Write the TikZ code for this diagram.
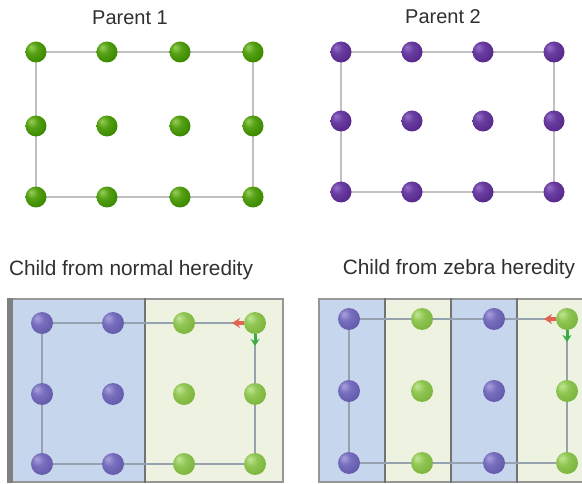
\documentclass[tikz,border=0pt]{standalone}
\usepackage{fontspec}
\setmainfont{Liberation Sans}
\usetikzlibrary{arrows.meta}

% layers: paper and column fills below, lattice wires above them, atoms on top
\pgfdeclarelayer{boxes}
\pgfdeclarelayer{wires}
\pgfsetlayers{boxes,wires,main}

% soft sphere shadings, one per atom colour
\pgfdeclareradialshading{pgreen}{\pgfpoint{-12bp}{12bp}}{%
  color(0bp)=(rgb,255:red,150;green,205;blue,90);
  color(14bp)=(rgb,255:red,85;green,160;blue,20);
  color(30bp)=(rgb,255:red,60;green,138;blue,0);
  color(44bp)=(rgb,255:red,42;green,100;blue,0);
  color(60bp)=(rgb,255:red,30;green,70;blue,0)}
\pgfdeclareradialshading{ppurple}{\pgfpoint{-12bp}{12bp}}{%
  color(0bp)=(rgb,255:red,150;green,110;blue,200);
  color(14bp)=(rgb,255:red,105;green,60;blue,160);
  color(30bp)=(rgb,255:red,88;green,42;blue,142);
  color(44bp)=(rgb,255:red,62;green,26;blue,105);
  color(60bp)=(rgb,255:red,45;green,18;blue,80)}
\pgfdeclareradialshading{cpurple}{\pgfpoint{-12bp}{12bp}}{%
  color(0bp)=(rgb,255:red,170;green,162;blue,220);
  color(14bp)=(rgb,255:red,120;green,110;blue,190);
  color(30bp)=(rgb,255:red,102;green,92;blue,172);
  color(44bp)=(rgb,255:red,78;green,68;blue,145);
  color(60bp)=(rgb,255:red,60;green,52;blue,120)}
\pgfdeclareradialshading{cgreen}{\pgfpoint{-12bp}{12bp}}{%
  color(0bp)=(rgb,255:red,195;green,230;blue,150);
  color(14bp)=(rgb,255:red,145;green,198;blue,85);
  color(30bp)=(rgb,255:red,125;green,182;blue,62);
  color(44bp)=(rgb,255:red,98;green,150;blue,45);
  color(60bp)=(rgb,255:red,75;green,120;blue,35)}

\definecolor{txt}{RGB}{48,48,48}
\definecolor{blueband}{RGB}{198,214,236}
\definecolor{greenband}{RGB}{237,243,224}
\definecolor{frame}{RGB}{150,150,150}
\definecolor{darkframe}{RGB}{115,115,115}
\definecolor{pwire}{RGB}{192,192,192}
\definecolor{cwire}{RGB}{150,162,175}
\definecolor{axisred}{RGB}{225,100,80}
\definecolor{axisgreen}{RGB}{60,170,70}

\tikzset{
  atom/.style={circle, inner sep=0pt, minimum size=21pt, draw=none},
  p1atom/.style={atom, shading=pgreen},
  p2atom/.style={atom, shading=ppurple},
  cbatom/.style={atom, minimum size=22pt, shading=cpurple},
  cgatom/.style={atom, minimum size=22pt, shading=cgreen},
  title/.style={text=txt, font=\fontsize{20}{24}\selectfont, inner sep=0pt},
  ctitle/.style={text=txt, font=\fontsize{20.8}{24}\selectfont, inner sep=0pt},
  pwires/.style={draw=pwire, line width=1.4pt},
  cwires/.style={draw=cwire, line width=1.1pt},
  bluecol/.style={fill=blueband, draw=frame, line width=2.5pt},
  greencol/.style={fill=greenband, draw=frame, line width=2.5pt},
  xaxis/.style={draw=axisred, line width=3.5pt, -{Stealth[length=8pt,width=10pt]}},
  yaxis/.style={draw=axisgreen, line width=3pt, -{Stealth[length=7pt,width=9pt]}},
}

\begin{document}
\begin{tikzpicture}[x=1pt,y=-1pt]
\useasboundingbox (0,0) rectangle (582,484);
\begin{pgfonlayer}{boxes}
  \fill[white] (0,0) rectangle (582,484);
\end{pgfonlayer}

% ---------- titles ----------
\node[title] (t1) at (130,18) {Parent 1};
\node[title] (t2) at (443,17) {Parent 2};
\node[ctitle] (t3) at (131,270) {Child from normal heredity};
\node[ctitle] (t4) at (459,269) {Child from zebra heredity};

% ---------- parent 1 ----------
\foreach \x [count=\i] in {36,107,180,253}
  \foreach \y [count=\j] in {52,126,197}
    \node[p1atom] (a\i\j) at (\x,\y) {};
\begin{pgfonlayer}{wires}
  \draw[pwires] (a11.center) -- (a41.center) -- (a43.center) -- (a13.center) -- cycle;
\end{pgfonlayer}

% ---------- parent 2 ----------
\foreach \x [count=\i] in {341,412,483,554}
  \foreach \y [count=\j] in {52,121,192}
    \node[p2atom] (b\i\j) at (\x,\y) {};
\begin{pgfonlayer}{wires}
  \draw[pwires] (b11.center) -- (b41.center) -- (b43.center) -- (b13.center) -- cycle;
\end{pgfonlayer}

% ---------- child from normal heredity ----------
\begin{pgfonlayer}{boxes}
  \path[bluecol] (8,299) rectangle (145,482);
  \path[greencol] (145,299) rectangle (283,482);
  \fill[frame!85!black] (7,298) rectangle (12.5,483);
  \draw[darkframe, line width=2.5pt] (145,298) -- (145,483);
\end{pgfonlayer}
\foreach \x [count=\i] in {42,113}
  \foreach \y [count=\j] in {323,394,464}
    \node[cbatom] (n\i\j) at (\x,\y) {};
\foreach \x [count=\i from 3] in {184,255}
  \foreach \y [count=\j] in {323,394,464}
    \node[cgatom] (n\i\j) at (\x,\y) {};
\begin{pgfonlayer}{wires}
  \draw[cwires] (n11.center) -- (n41.center) -- (n43.center) -- (n13.center) -- cycle;
\end{pgfonlayer}
\coordinate (nx) at (232,323);
\coordinate (ny) at (255,346);
\draw[xaxis] (n41.west) -- (nx);
\draw[yaxis] (n41.south) -- (ny);

% ---------- child from zebra heredity ----------
\begin{pgfonlayer}{boxes}
  \path[bluecol] (319,299) rectangle (385,482);
  \path[greencol] (385,299) rectangle (451,482);
  \path[bluecol] (451,299) rectangle (517,482);
  \path[greencol] (517,299) rectangle (590,482);
  \draw[darkframe, line width=2.5pt] (385,298) -- (385,483);
  \draw[darkframe, line width=2.5pt] (451,298) -- (451,483);
  \draw[darkframe, line width=2.5pt] (517,298) -- (517,483);
\end{pgfonlayer}
\foreach \x [count=\i from 1] in {349,494}
  \foreach \y [count=\j] in {319,391,463}
    \node[cbatom] (z\i\j) at (\x,\y) {};
\foreach \x [count=\i from 3] in {422,567}
  \foreach \y [count=\j] in {319,391,463}
    \node[cgatom] (z\i\j) at (\x,\y) {};
\begin{pgfonlayer}{wires}
  \draw[cwires] (z11.center) -- (z41.center) -- (z43.center) -- (z13.center) -- cycle;
\end{pgfonlayer}
\coordinate (zx) at (544,319);
\coordinate (zy) at (567,342);
\draw[xaxis] (z41.west) -- (zx);
\draw[yaxis] (z41.south) -- (zy);
\end{tikzpicture}
\end{document}
